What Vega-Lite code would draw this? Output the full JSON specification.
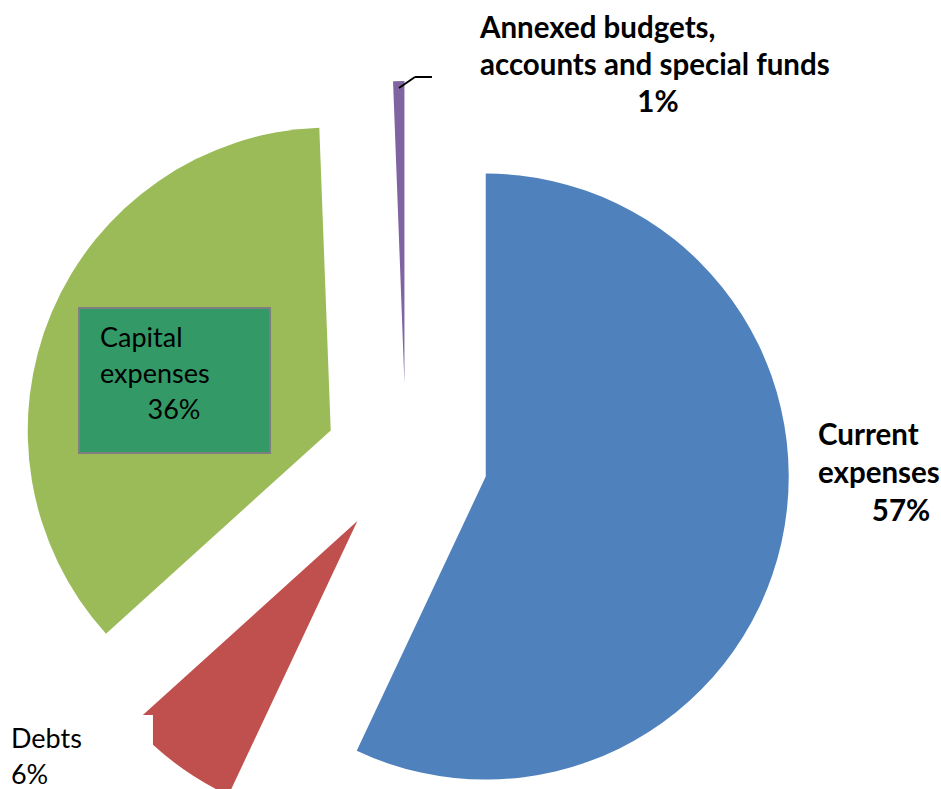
{
  "$schema": "https://vega.github.io/schema/vega-lite/v6.json",
  "width": 941,
  "height": 789,
  "autosize": {"type": "none"},
  "padding": 0,
  "background": "white",
  "config": {"view": {"stroke": null}, "font": "Lato"},
  "params": [{"name": "explode", "value": 76}],
  "data": {
    "values": [
      {"category": "Current expenses", "label": "Current\nexpenses", "value": 57.0, "order": 1},
      {"category": "Debts", "label": "Debts", "value": 6.3, "order": 2},
      {"category": "Capital expenses", "label": "Capital\nexpenses", "value": 36.1, "order": 3},
      {"category": "Annexed budgets, accounts and special funds", "label": "Annexed budgets,\naccounts and special funds", "value": 0.6, "order": 4}
    ]
  },
  "transform": [
    {"joinaggregate": [{"op": "sum", "field": "value", "as": "total"}]},
    {"window": [{"op": "sum", "field": "value", "as": "cum"}], "sort": [{"field": "order"}], "frame": [null, 0]},
    {"calculate": "datum.cum - datum.value", "as": "start"},
    {"calculate": "datum.value / datum.total", "as": "share"},
    {"calculate": "2 * PI * (datum.cum - datum.value / 2) / datum.total", "as": "mid"},
    {"calculate": "explode * sin(datum.mid)", "as": "ox"},
    {"calculate": "-explode * cos(datum.mid)", "as": "oy"}
  ],
  "encoding": {
    "x": {"field": "ox", "type": "quantitative", "stack": null, "axis": null,
          "scale": {"domain": [-377.7, 497.7], "nice": false, "zero": false}},
    "y": {"field": "oy", "type": "quantitative", "stack": null, "axis": null,
          "scale": {"domain": [-460, 329], "nice": false, "zero": false, "reverse": true}}
  },
  "layer": [
    {
      "mark": {"type": "arc", "radius": 303},
      "encoding": {
        "theta": {"field": "start", "type": "quantitative", "stack": null, "scale": {"domain": [0, 100]}},
        "theta2": {"field": "cum"},
        "color": {"field": "category", "type": "nominal", "legend": null,
                  "scale": {"domain": ["Current expenses", "Debts", "Capital expenses", "Annexed budgets, accounts and special funds"],
                            "range": ["#4F81BD", "#C0504D", "#9BBB59", "#8064A2"]}}
      }
    },
    {
      "transform": [{"filter": "datum.order == 2"}],
      "mark": {"type": "rect", "fill": "white", "xOffset": -362, "x2Offset": -204.4, "yOffset": 193.9, "y2Offset": 300},
      "encoding": {"x2": {"field": "ox"}, "y2": {"field": "oy"}}
    },
    {
      "transform": [{"filter": "datum.order == 3"}],
      "mark": {"type": "rect", "fill": "#339966", "stroke": "#7F7F7F", "strokeWidth": 2,
               "xOffset": -251.7, "x2Offset": -60.7, "yOffset": -122.5, "y2Offset": 22.5},
      "encoding": {"x2": {"field": "ox"}, "y2": {"field": "oy"}}
    },
    {
      "transform": [{"filter": "datum.order == 4"}],
      "mark": {"type": "rule", "color": "black", "strokeWidth": 2,
               "xOffset": -5.5, "yOffset": -296, "x2Offset": 10.5, "y2Offset": -307},
      "encoding": {"x2": {"field": "ox"}, "y2": {"field": "oy"}}
    },
    {
      "transform": [{"filter": "datum.order == 4"}],
      "mark": {"type": "rule", "color": "black", "strokeWidth": 2,
               "xOffset": 10.5, "yOffset": -307, "x2Offset": 27.5, "y2Offset": -307},
      "encoding": {"x2": {"field": "ox"}, "y2": {"field": "oy"}}
    },
    {
      "transform": [{"filter": "datum.order == 1"}],
      "mark": {"type": "text", "align": "left", "baseline": "alphabetic", "lineBreak": "\n", "lineHeight": 38,
               "fontSize": 29.5, "fontWeight": "bold", "color": "black", "dx": 332.3, "dy": -31.6},
      "encoding": {"text": {"field": "label"}}
    },
    {
      "transform": [{"filter": "datum.order == 1"}],
      "mark": {"type": "text", "align": "center", "baseline": "alphabetic",
               "fontSize": 29.5, "fontWeight": "bold", "color": "black", "dx": 415.3, "dy": 44.4},
      "encoding": {"text": {"field": "share", "type": "quantitative", "format": ".0%"}}
    },
    {
      "transform": [{"filter": "datum.order == 4"}],
      "mark": {"type": "text", "align": "left", "baseline": "alphabetic", "lineBreak": "\n", "lineHeight": 37,
               "fontSize": 29.5, "fontWeight": "bold", "color": "black", "dx": 75.5, "dy": -346},
      "encoding": {"text": {"field": "label"}}
    },
    {
      "transform": [{"filter": "datum.order == 4"}],
      "mark": {"type": "text", "align": "center", "baseline": "alphabetic",
               "fontSize": 29.5, "fontWeight": "bold", "color": "black", "dx": 253.5, "dy": -272},
      "encoding": {"text": {"field": "share", "type": "quantitative", "format": ".0%"}}
    },
    {
      "transform": [{"filter": "datum.order == 3"}],
      "mark": {"type": "text", "align": "left", "baseline": "alphabetic", "lineBreak": "\n", "lineHeight": 36,
               "fontSize": 27, "fontWeight": "normal", "color": "black", "dx": -230.7, "dy": -83.5},
      "encoding": {"text": {"field": "label"}}
    },
    {
      "transform": [{"filter": "datum.order == 3"}],
      "mark": {"type": "text", "align": "center", "baseline": "alphabetic",
               "fontSize": 27, "fontWeight": "normal", "color": "black", "dx": -156.7, "dy": -11.5},
      "encoding": {"text": {"field": "share", "type": "quantitative", "format": ".0%"}}
    },
    {
      "transform": [{"filter": "datum.order == 2"}],
      "mark": {"type": "text", "align": "left", "baseline": "alphabetic", "lineBreak": "\n",
               "fontSize": 27, "fontWeight": "normal", "color": "black", "dx": -346.4, "dy": 227},
      "encoding": {"text": {"field": "label"}}
    },
    {
      "transform": [{"filter": "datum.order == 2"}],
      "mark": {"type": "text", "align": "left", "baseline": "alphabetic",
               "fontSize": 27, "fontWeight": "normal", "color": "black", "dx": -346.4, "dy": 262.5},
      "encoding": {"text": {"field": "share", "type": "quantitative", "format": ".0%"}}
    }
  ]
}
